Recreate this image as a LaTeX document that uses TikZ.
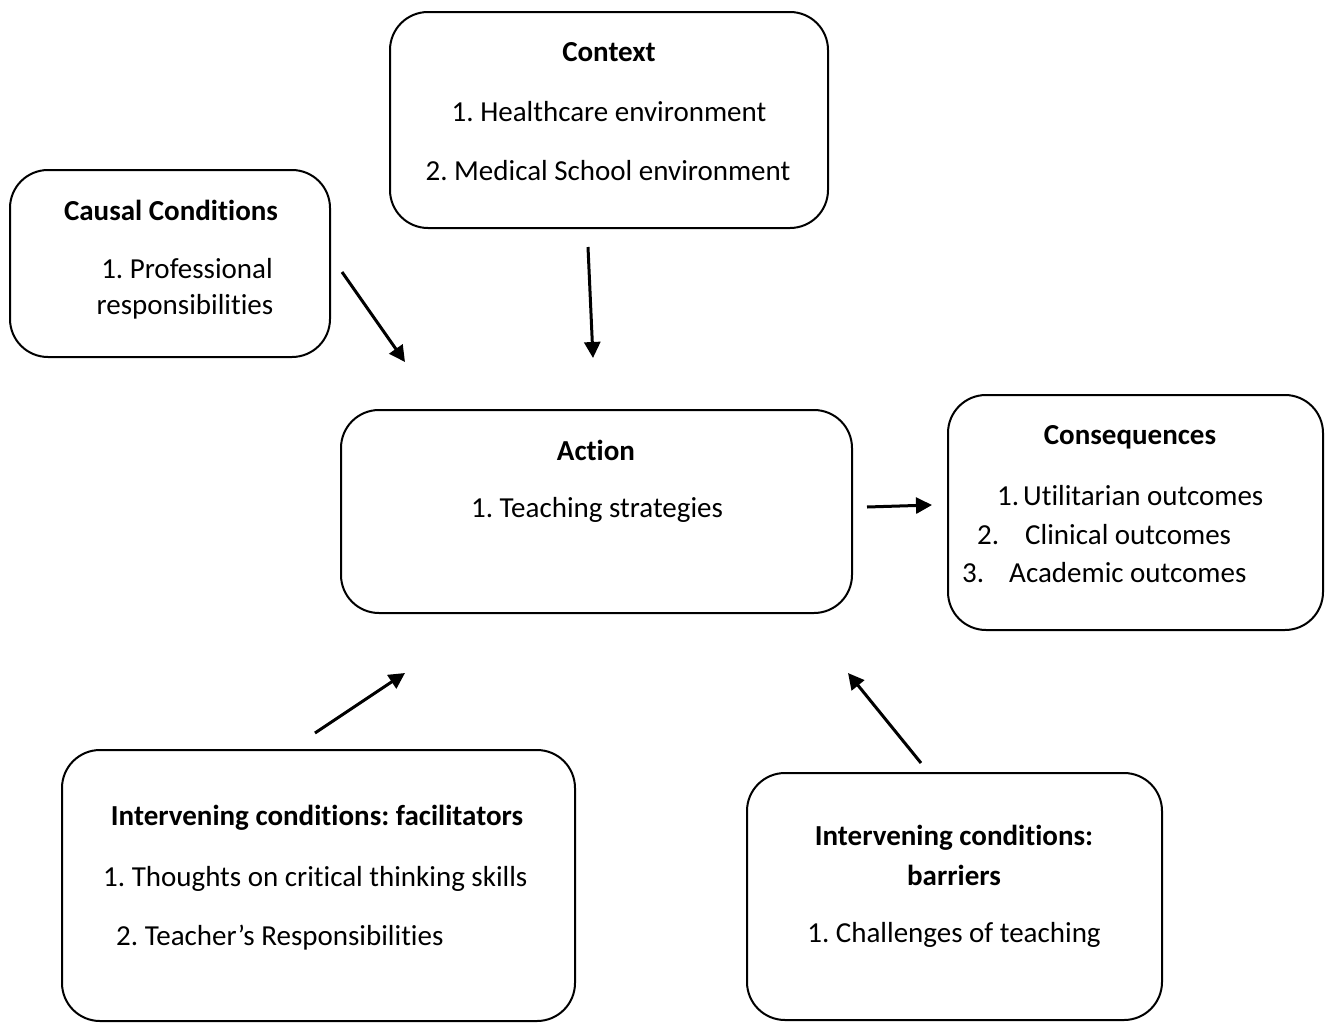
\documentclass[tikz,border=0pt]{standalone}
\usepackage{fontspec}
\setmainfont{Carlito}[Ligatures={NoCommon}]
\usetikzlibrary{arrows.meta}
\begin{document}
\frenchspacing
\begin{tikzpicture}[x=1pt,y=-1pt,
  box/.style={draw,line width=2pt,rounded corners=38pt,inner sep=0pt},
  txt/.style={inner sep=0pt,font=\fontsize{29}{35}\selectfont},
  ttl/.style={txt,font=\fontsize{29}{35}\selectfont\bfseries},
  arr/.style={line width=3pt,-{Triangle[length=16pt,width=16pt]}}]
\useasboundingbox (0,0) rectangle (1328,1023);
% boxes
\draw[box] (390,12) rectangle (828,228);
\draw[box] (10,170) rectangle (330,357);
\draw[box] (341,410) rectangle (852,613);
\draw[box] (948,395) rectangle (1323,630);
\draw[box] (62,750) rectangle (575,1021);
\draw[box] (747,773) rectangle (1162,1020);
% context
\node[ttl] (ctxT) at (609,52) {Context};
\node[txt] (ctx1) at (609,112) {1. Healthcare environment};
\node[txt] (ctx2) at (608,171) {2. Medical School environment};
% causal
\node[ttl] (cauT) at (171,210) {Causal Conditions};
\node[txt] (cau1) at (187,269) {1. Professional};
\node[txt] (cau2) at (185,307) {responsibilities};
% action
\node[ttl] (actT) at (596,450) {Action};
\node[txt] (act1) at (597,510) {1. Teaching strategies};
% consequences
\node[ttl] (conT) at (1130,437) {Consequences};
\node[txt,anchor=west] (con1) at (997,496) {1.\hspace{4pt}Utilitarian outcomes};
\node[txt,anchor=west] (con2) at (977,535) {2.\hspace{26pt}Clinical outcomes};
\node[txt,anchor=west] (con3) at (962,573) {3.\hspace{25pt}Academic outcomes};
% facilitators
\node[ttl] (facT) at (317,818) {Intervening conditions: facilitators};
\node[txt,anchor=west] (fac1) at (103,879) {1. Thoughts on critical thinking skills};
\node[txt,anchor=west] (fac2) at (116,938) {2. Teacher’s Responsibilities};
% barriers
\node[ttl] (barT) at (954,838) {Intervening conditions:};
\node[ttl] (barT2) at (954,875) {barriers};
\node[txt] (bar1) at (954,935) {1. Challenges of teaching};
% arrows
\coordinate (a1s) at (342,272); \coordinate (a1e) at (405,362);
\coordinate (a2s) at (588,247); \coordinate (a2e) at (593,358);
\coordinate (a3s) at (867,507); \coordinate (a3e) at (932,505);
\coordinate (a4s) at (315,733); \coordinate (a4e) at (405,673);
\coordinate (a5s) at (921,763); \coordinate (a5e) at (848,673);
\draw[arr] (a1s) -- (a1e);
\draw[arr] (a2s) -- (a2e);
\draw[arr] (a3s) -- (a3e);
\draw[arr] (a4s) -- (a4e);
\draw[arr] (a5s) -- (a5e);
\end{tikzpicture}
\end{document}
